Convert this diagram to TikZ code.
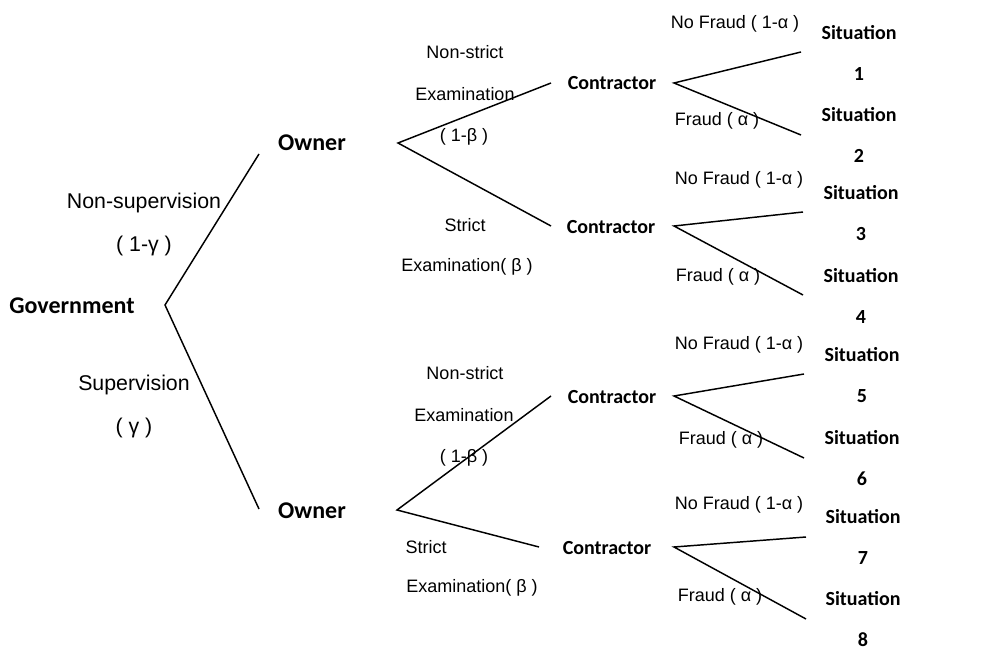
\documentclass[tikz,border=0pt]{standalone}
\usepackage{fontspec}
\setmainfont{Liberation Sans}
\newfontfamily\boldlab{Carlito}
\begin{document}
\begin{tikzpicture}[x=0.75pt,y=-0.75pt,
  lab/.style={font=\fontsize{13.5}{16}\selectfont, inner sep=0pt},
  biglab/.style={font=\fontsize{16}{18}\selectfont, inner sep=0pt},
  player/.style={font=\boldlab\bfseries\fontsize{15}{18}\selectfont, inner sep=0pt},
  bigplayer/.style={font=\boldlab\bfseries\fontsize{18}{20}\selectfont, inner sep=0pt},
  sit/.style={font=\boldlab\bfseries\fontsize{15}{30.75}\selectfont, inner sep=0pt, align=center},
  branch/.style={line width=1.1pt}]
\useasboundingbox (0,0) rectangle (1008,652);
% vertices and free ends
\coordinate (g) at (165,305);
\coordinate (o1e) at (259,154);
\coordinate (o2e) at (259,509);
\coordinate (v1) at (398,143);
\coordinate (c1e) at (551,83);
\coordinate (c2e) at (551,226);
\coordinate (k1) at (674,83);
\coordinate (s1e) at (801,52);
\coordinate (s2e) at (801,135);
\coordinate (k2) at (674,226);
\coordinate (s3e) at (803,212);
\coordinate (s4e) at (803,295);
\coordinate (v2) at (397,510);
\coordinate (c3e) at (551,396);
\coordinate (c4e) at (539,547);
\coordinate (k3) at (674,396);
\coordinate (s5e) at (804,374);
\coordinate (s6e) at (804,458);
\coordinate (k4) at (674,547);
\coordinate (s7e) at (806,537);
\coordinate (s8e) at (806,619);
% players
\node[bigplayer] (gov) at (72,306) {Government};
\node[bigplayer] (own1) at (312,143) {Owner};
\node[bigplayer] (own2) at (312,511) {Owner};
\node[player] (con1) at (612,83) {Contractor};
\node[player] (con2) at (611,227) {Contractor};
\node[player] (con3) at (612,397) {Contractor};
\node[player] (con4) at (607,548) {Contractor};
% situations
\node[sit] (sit1) at (859,52.5) {Situation\\1};
\node[sit] (sit2) at (859,135) {Situation\\2};
\node[sit] (sit3) at (861,213) {Situation\\3};
\node[sit] (sit4) at (861,296) {Situation\\4};
\node[sit] (sit5) at (862,375.5) {Situation\\5};
\node[sit] (sit6) at (862,458) {Situation\\6};
\node[sit] (sit7) at (863,537) {Situation\\7};
\node[sit] (sit8) at (863,619.5) {Situation\\8};
% branches
\draw[branch] (o1e) -- (g) -- (o2e);
\draw[branch] (c1e) -- (v1) -- (c2e);
\draw[branch] (s1e) -- (k1) -- (s2e);
\draw[branch] (s3e) -- (k2) -- (s4e);
\draw[branch] (c3e) -- (v2) -- (c4e);
\draw[branch] (s5e) -- (k3) -- (s6e);
\draw[branch] (s7e) -- (k4) -- (s8e);
% government branch labels
\node[biglab] (ns) at (144,203) {Non-supervision};
\node[biglab] (nsp) at (144,246) {( 1-γ )};
\node[biglab] (sup) at (134,385) {Supervision};
\node[biglab] (supp) at (134,428) {( γ )};
% owner 1 labels
\node[lab] (a1) at (465,52) {Non-strict};
\node[lab] (a2) at (465,94) {Examination};
\node[lab] (a3) at (464,137) {( 1-β )};
\node[lab] (a4) at (465,225) {Strict};
\node[lab] (a5) at (467,267) {Examination( β )};
% owner 2 labels
\node[lab] (b1) at (465,373) {Non-strict};
\node[lab] (b2) at (464,415) {Examination};
\node[lab] (b3) at (464,458) {( 1-β )};
\node[lab] (b4) at (426,547) {Strict};
\node[lab] (b5) at (472,588) {Examination( β )};
% contractor labels
\node[lab] (f1) at (735,24) {No Fraud ( 1-α )};
\node[lab] (f2) at (717,121) {Fraud ( α )};
\node[lab] (f3) at (739,180) {No Fraud ( 1-α )};
\node[lab] (f4) at (718,277) {Fraud ( α )};
\node[lab] (f5) at (739,345) {No Fraud ( 1-α )};
\node[lab] (f6) at (721,440) {Fraud ( α )};
\node[lab] (f7) at (739,505) {No Fraud ( 1-α )};
\node[lab] (f8) at (720,597) {Fraud ( α )};
\end{tikzpicture}
\end{document}
